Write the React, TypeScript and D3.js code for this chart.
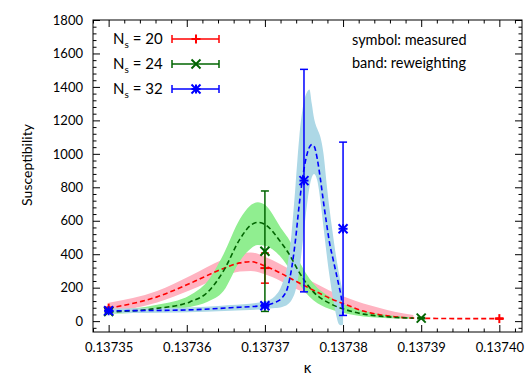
import * as d3 from 'd3'
import { useEffect, useRef } from 'react'

// axis ticks
const xTicks = [0.13735, 0.13736, 0.13737, 0.13738, 0.13739, 0.13740]
const yTicks = [0, 200, 400, 600, 800, 1000, 1200, 1400, 1600, 1800]

// measured points (symbols with error bars)
const kappa20 = [0.13735, 0.13737, 0.13740]
const chi20 = [78, 317, 15]
const err20 = [5, 90, 3]

const kappa24 = [0.13735, 0.13737, 0.13739]
const chi24 = [58, 418, 18]
const err24 = [5, 360, 4]

const kappa32 = [0.13735, 0.13737, 0.137375, 0.13738]
const chi32 = [62, 92, 840, 552]
const err32 = [5, 8, 665, 518]

// reweighting curves and bands
const rwKappa20 = [0.13735, 0.1373562, 0.1373604, 0.1373647, 0.1373668, 0.1373682, 0.13737, 0.137372, 0.1373741, 0.1373762,
  0.1373783, 0.1373805, 0.1373826, 0.1373847, 0.1373866, 0.137389, 0.137392, 0.137396, 0.1374]
const rwChi20 = [78, 145, 225, 315, 348, 355, 330, 287, 235, 185, 137, 96, 60, 38, 26, 18, 16, 15, 15]
const rwHi20 = [110, 180, 270, 370, 405, 410, 385, 340, 285, 232, 182, 140, 105, 78, 56, 36, null, null, null]
const rwLo20 = [52, 112, 185, 268, 296, 300, 280, 240, 190, 145, 105, 70, 42, 28, 18, 12, null, null, null]

const rwKappa24 = [0.13735, 0.1373562, 0.1373604, 0.1373626, 0.1373647, 0.1373668, 0.1373681, 0.1373691, 0.13737, 0.137372,
  0.1373733, 0.1373741, 0.1373762, 0.1373783, 0.1373805, 0.1373826, 0.1373847, 0.1373867, 0.137389]
const rwChi24 = [55, 76, 115, 170, 300, 490, 570, 590, 578, 474, 385, 315, 175, 106, 66, 42, 30, 22, 18]
const rwHi24 = [66, 98, 155, 235, 400, 610, 690, 710, 695, 560, 470, 385, 225, 145, 92, 60, 42, 30, 22]
const rwLo24 = [44, 58, 85, 115, 180, 360, 430, 455, 450, 385, 300, 240, 125, 72, 44, 28, 20, 16, 15]

const rwKappa32 = [0.13735, 0.1373592, 0.1373656, 0.13737, 0.1373713, 0.1373722, 0.1373729, 0.1373734, 0.1373739, 0.1373744,
  0.1373749, 0.1373754, 0.1373757, 0.137376, 0.1373763, 0.1373767, 0.1373771, 0.1373775, 0.1373779, 0.1373783,
  0.1373787, 0.1373791, 0.1373795, 0.1373798, 0.13738]
const rwChi32 = [62, 66, 80, 95, 112, 140, 200, 310, 480, 700, 880, 1000, 1040, 1055, 1045, 970, 850, 710, 580, 460,
  375, 290, 205, 130, 35]
const rwHi32 = [76, 80, 96, 118, 150, 220, 340, 520, 800, 1100, 1290, 1370, 1385, 1300, 1210, 1150, 1100, 1000, 820, 660,
  520, 390, 280, 210, 160]
const rwLo32 = [48, 52, 62, 72, 78, 85, 100, 125, 180, 300, 500, 700, 800, 860, 880, 840, 720, 560, 400, 260,
  140, 40, -20, -25, -20]

const legendLabels = ['20', '24', '32']
const FONT = "Lato, 'Open Sans', sans-serif"

function makeChart(svgEl: SVGSVGElement) {
  const svg = d3.select(svgEl)
  svg.selectAll('*').remove()

  const left = 93, right = 522, top = 20, bottom = 332
  const x = d3.scaleLinear().domain([0.137348, 0.1374029]).range([left, right])
  const y = d3.scaleLinear().domain([-65, 1800]).range([bottom, top])

  svg.append('defs').append('clipPath').attr('id', 'plotclip')
    .append('rect').attr('x', left).attr('y', top).attr('width', right - left).attr('height', bottom - top)

  const series = [
    { k: kappa20, v: chi20, e: err20, rk: rwKappa20, rv: rwChi20, hi: rwHi20, lo: rwLo20, col: '#ff0000', band: '#ffb3c1', sym: 'plus' },
    { k: kappa24, v: chi24, e: err24, rk: rwKappa24, rv: rwChi24, hi: rwHi24, lo: rwLo24, col: '#006400', band: '#90ee90', sym: 'cross' },
    { k: kappa32, v: chi32, e: err32, rk: rwKappa32, rv: rwChi32, hi: rwHi32, lo: rwLo32, col: '#0000ff', band: '#add8e6', sym: 'star' },
  ]

  const plot = svg.append('g').attr('clip-path', 'url(#plotclip)')

  // bands
  series.forEach(s => {
    const pts = s.rk.map((k, i) => ({ k, hi: s.hi[i], lo: s.lo[i] }))
    const area = d3.area<any>()
      .defined(d => d.hi != null)
      .x(d => x(d.k)).y0(d => y(d.lo)).y1(d => y(d.hi))
      .curve(d3.curveMonotoneX)
    plot.append('path').attr('d', area(pts)).attr('fill', s.band)
  })

  // dashed reweighting lines
  series.forEach(s => {
    const line = d3.line<number>()
      .x((d, i) => x(s.rk[i])).y(d => y(d))
      .curve(d3.curveMonotoneX)
    plot.append('path').attr('d', line(s.rv))
      .attr('fill', 'none').attr('stroke', s.col).attr('stroke-width', 1.6)
      .attr('stroke-dasharray', '5,3')
  })

  const drawSym = (g: any, sym: string, cx: number, cy: number, col: string) => {
    const r = 4.5
    const segs: number[][] = []
    if (sym === 'plus' || sym === 'star') segs.push([cx - r, cy, cx + r, cy], [cx, cy - r, cx, cy + r])
    if (sym === 'cross' || sym === 'star') segs.push([cx - r, cy - r, cx + r, cy + r], [cx - r, cy + r, cx + r, cy - r])
    segs.forEach(p => g.append('line').attr('x1', p[0]).attr('y1', p[1]).attr('x2', p[2]).attr('y2', p[3])
      .attr('stroke', col).attr('stroke-width', 2))
  }

  // measured points with error bars
  series.forEach(s => {
    const g = svg.append('g')
    s.k.forEach((k, i) => {
      const cx = x(k), y1 = y(s.v[i] + s.e[i]), y0 = y(s.v[i] - s.e[i])
      g.append('line').attr('x1', cx).attr('x2', cx).attr('y1', y1).attr('y2', y0)
        .attr('stroke', s.col).attr('stroke-width', 1.5)
      ;[y0, y1].forEach(yy => g.append('line').attr('x1', cx - 4).attr('x2', cx + 4).attr('y1', yy).attr('y2', yy)
        .attr('stroke', s.col).attr('stroke-width', 1.5))
      drawSym(g, s.sym, cx, y(s.v[i]), s.col)
    })
  })

  // axes: ticks inward on all four sides
  const xMinor = d3.range(0, 28).map(i => 0.137348 + i * 0.000002).filter(v => v <= 0.1374029 && !xTicks.some(t => Math.abs(t - v) < 1e-9))
  const yMinor = d3.range(-40, 1800, 40).filter(v => v % 200 !== 0)

  const styleAxis = (g: any) => {
    g.select('.domain').remove()
    g.selectAll('.tick line').attr('stroke', '#000')
    g.selectAll('text').attr('font-family', FONT).attr('font-size', 13).attr('fill', '#000')
  }

  svg.append('g').attr('transform', `translate(0,${bottom})`)
    .call(d3.axisBottom(x).tickValues(xTicks).tickFormat(d3.format('.5f') as any).tickSize(-7).tickPadding(11))
    .call(styleAxis)
  svg.append('g').attr('transform', `translate(0,${bottom})`)
    .call(d3.axisBottom(x).tickValues(xMinor).tickFormat(() => '').tickSize(-3.5)).call(styleAxis)
  svg.append('g').attr('transform', `translate(0,${top})`)
    .call(d3.axisTop(x).tickValues(xTicks).tickFormat(() => '').tickSize(-7)).call(styleAxis)
  svg.append('g').attr('transform', `translate(0,${top})`)
    .call(d3.axisTop(x).tickValues(xMinor).tickFormat(() => '').tickSize(-3.5)).call(styleAxis)

  svg.append('g').attr('transform', `translate(${left},0)`)
    .call(d3.axisLeft(y).tickValues(yTicks).tickFormat(d3.format('d') as any).tickSize(-7).tickPadding(10))
    .call(styleAxis)
  svg.append('g').attr('transform', `translate(${left},0)`)
    .call(d3.axisLeft(y).tickValues(yMinor).tickFormat(() => '').tickSize(-3.5)).call(styleAxis)
  svg.append('g').attr('transform', `translate(${right},0)`)
    .call(d3.axisRight(y).tickValues(yTicks).tickFormat(() => '').tickSize(-7)).call(styleAxis)
  svg.append('g').attr('transform', `translate(${right},0)`)
    .call(d3.axisRight(y).tickValues(yMinor).tickFormat(() => '').tickSize(-3.5)).call(styleAxis)

  svg.append('rect').attr('x', left).attr('y', top).attr('width', right - left).attr('height', bottom - top)
    .attr('fill', 'none').attr('stroke', '#000').attr('stroke-width', 1)

  // axis titles
  svg.append('text').attr('transform', `translate(32,165) rotate(-90)`).attr('text-anchor', 'middle')
    .attr('font-family', FONT).attr('font-size', 14).text('Susceptibility')
  svg.append('text').attr('x', (left + right) / 2).attr('y', 373).attr('text-anchor', 'middle')
    .attr('font-family', FONT).attr('font-size', 15).text('κ')

  // legend
  series.forEach((s, i) => {
    const ly = 39 + i * 25
    const t = svg.append('text').attr('x', 113).attr('y', ly + 5).attr('font-family', FONT).attr('font-size', 15)
    t.append('tspan').text('N')
    t.append('tspan').attr('font-size', 10).attr('dy', 4).text('s')
    t.append('tspan').attr('dy', -4).text(` = ${legendLabels[i]}`)
    const g = svg.append('g')
    g.append('line').attr('x1', 172).attr('x2', 219).attr('y1', ly).attr('y2', ly).attr('stroke', s.col).attr('stroke-width', 1.5)
    ;[172, 219].forEach(xx => g.append('line').attr('x1', xx).attr('x2', xx).attr('y1', ly - 4).attr('y2', ly + 4)
      .attr('stroke', s.col).attr('stroke-width', 1.5))
    drawSym(g, s.sym, 196, ly, s.col)
  })

  svg.append('text').attr('x', 352).attr('y', 45).attr('font-family', FONT).attr('font-size', 14.5).text('symbol: measured')
  svg.append('text').attr('x', 352).attr('y', 68).attr('font-family', FONT).attr('font-size', 14.5).text('band: reweighting')
}

export default function App() {
  const ref = useRef<SVGSVGElement>(null)
  useEffect(() => {
    if (ref.current) makeChart(ref.current)
  }, [])
  return (
    <svg ref={ref} width={526} height={379} style={{ position: 'absolute', left: 0, top: 0, background: '#fff' }} />
  )
}
